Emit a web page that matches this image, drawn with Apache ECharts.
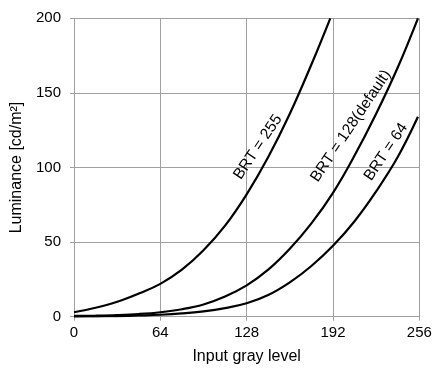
<!DOCTYPE html>
<html>
<head>
<meta charset="utf-8">
<script src="https://cdn.jsdelivr.net/npm/echarts@6/dist/echarts.min.js"></script>
<style>
html,body{margin:0;padding:0;background:#fff;}
#c{width:435px;height:370px;}
</style>
</head>
<body>
<div id="c"></div>
<script>
// Data
const xTicks = [0, 64, 128, 192, 256];
const yTicks = [0, 50, 100, 150, 200];

const brt255X = [0, 16, 32, 48, 64, 80, 96, 112, 128, 144, 160, 176, 190];
const brt255Y = [3, 6, 10, 15.5, 22, 31.5, 44.5, 61, 82, 107, 136, 169, 200];

const brt128X = [0, 16, 32, 48, 64, 80, 96, 112, 128, 144, 160, 176, 192, 208, 224, 240, 255];
const brt128Y = [0.5, 0.7, 1.1, 1.8, 3, 5, 8.2, 13.5, 21, 31.5, 45.5, 62.5, 83, 108, 136, 167, 200];

const brt64X = [0, 16, 32, 48, 64, 80, 96, 112, 128, 144, 160, 176, 192, 208, 224, 240, 255];
const brt64Y = [0, 0.2, 0.4, 0.8, 1.3, 2.2, 3.6, 5.8, 9, 14.5, 23, 34, 47.5, 64, 84, 107, 134];

const seriesNames = ['BRT = 255', 'BRT = 128(default)', 'BRT = 64'];
const labelAt = [[136.4, 113.7], [205.3, 127.8], [231.3, 110.4]];

const FONT = '"Liberation Sans", Arial, sans-serif';

function pairs(xs, ys) { return xs.map((x, i) => [x, ys[i]]); }

function mkSeries(name, data, lab) {
  return {
    type: 'line',
    name: name,
    data: data,
    smooth: 0.4,
    showSymbol: false,
    symbol: 'none',
    clip: true,
    lineStyle: { color: '#000', width: 2.2 },
    markPoint: {
      symbol: 'circle',
      symbolSize: 0,
      silent: true,
      data: [{ coord: lab }],
      label: {
        show: true,
        formatter: name,
        rotate: 56,
        position: 'inside',
        color: '#000',
        fontFamily: FONT,
        fontSize: 15.5
      }
    }
  };
}

const chart = echarts.init(document.getElementById('c'), null, { renderer: 'canvas' });
chart.setOption({
  animation: false,
  backgroundColor: '#fff',
  grid: { left: 74, right: 15.7, top: 18.3, bottom: 53.3, containLabel: false },
  xAxis: {
    type: 'value',
    min: xTicks[0],
    max: xTicks[xTicks.length - 1],
    interval: 64,
    name: 'Input gray level',
    nameLocation: 'middle',
    nameGap: 32,
    nameTextStyle: { color: '#000', fontFamily: FONT, fontSize: 16 },
    axisLine: { show: true, lineStyle: { color: '#a0a0a0', width: 1 } },
    axisTick: { show: true, length: 4, lineStyle: { color: '#a0a0a0' } },
    axisLabel: { color: '#000', fontFamily: FONT, fontSize: 15, margin: 9 },
    splitLine: { show: true, lineStyle: { color: '#a0a0a0', width: 1 } }
  },
  yAxis: {
    type: 'value',
    min: yTicks[0],
    max: yTicks[yTicks.length - 1],
    interval: 50,
    name: 'Luminance [cd/m²]',
    nameLocation: 'middle',
    nameGap: 45,
    nameTextStyle: { color: '#000', fontFamily: FONT, fontSize: 16 },
    axisLine: { show: true, lineStyle: { color: '#a0a0a0', width: 1 } },
    axisTick: { show: true, length: 4, lineStyle: { color: '#a0a0a0' } },
    axisLabel: { color: '#000', fontFamily: FONT, fontSize: 15, margin: 13 },
    splitLine: { show: true, lineStyle: { color: '#a0a0a0', width: 1 } }
  },
  series: [
    mkSeries(seriesNames[0], pairs(brt255X, brt255Y), labelAt[0]),
    mkSeries(seriesNames[1], pairs(brt128X, brt128Y), labelAt[1]),
    mkSeries(seriesNames[2], pairs(brt64X, brt64Y), labelAt[2])
  ]
});
</script>
</body>
</html>
